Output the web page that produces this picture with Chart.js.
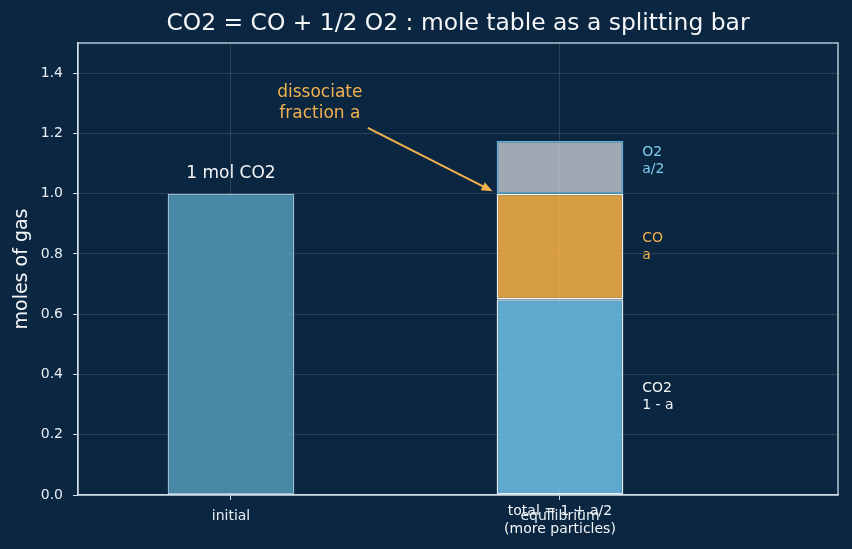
<!DOCTYPE html>
<html><head><meta charset="utf-8">
<script src="https://cdn.jsdelivr.net/npm/chart.js@4/dist/chart.umd.min.js"></script>
<style>html,body{margin:0;padding:0;background:#0b2640;overflow:hidden;}</style>
</head><body>
<canvas id="c" width="852" height="549" style="width:852px;height:549px;display:block"></canvas>
<script>
// ---- data ----
const categories = ['initial', 'equilibrium'];
const categoryX = [0, 1];
const yTicks = [0, 0.2, 0.4, 0.6, 0.8, 1.0, 1.2, 1.4];
const initialMoles = [1.0];
const dissociated = 0.35;                  // a
const eqCO2 = [0.65];                      // 1 - a
const eqCO = [0.35];                       // a
const eqO2 = [0.175];                      // a/2
const segmentNames = ['CO2', 'CO', 'O2'];
const segmentExpr = ['1 - a', 'a', 'a/2'];
const titleText = 'CO2 = CO + 1/2 O2 : mole table as a splitting bar';
const yLabelText = 'moles of gas';
const initialLabel = '1 mol CO2';
const arrowText = ['dissociate', 'fraction a'];
const totalText = ['total = 1 + a/2', '(more particles)'];

const FONT = '"DejaVu Sans", "Liberation Sans", sans-serif';
const BG = '#0b2640';

const bgPlugin = {
  id: 'bg',
  beforeDraw(chart) {
    const c = chart.ctx;
    c.save(); c.fillStyle = BG; c.fillRect(0, 0, chart.width, chart.height); c.restore();
  }
};

function drawLines(c, lines, x, yMid, lh) {
  const n = lines.length;
  lines.forEach((t, i) => c.fillText(t, x, yMid + (i - (n - 1) / 2) * lh));
}

const textPlugin = {
  id: 'texts',
  afterDraw(chart) {
    const c = chart.ctx, xs = chart.scales.x, ys = chart.scales.y, a = chart.chartArea;
    c.save();
    // frame
    c.strokeStyle = '#cfdde8'; c.lineWidth = 1.3;
    c.strokeRect(a.left, a.top, a.right - a.left, a.bottom - a.top);
    // title
    c.fillStyle = '#f4f6f8'; c.font = '23.4px ' + FONT; c.textAlign = 'center'; c.textBaseline = 'middle';
    c.fillText(titleText, (a.left + a.right) / 2, 24);
    // y label
    c.save(); c.translate(22, (a.top + a.bottom) / 2); c.rotate(-Math.PI / 2);
    c.font = '19px ' + FONT; c.fillText(yLabelText, 0, 0); c.restore();
    // initial label
    c.font = '17px ' + FONT; c.fillStyle = '#f4f6f8';
    c.fillText(initialLabel, xs.getPixelForValue(categoryX[0]), ys.getPixelForValue(initialMoles[0] + 0.07) + 1);
    // annotation
    c.fillStyle = '#f2b24e';
    drawLines(c, arrowText, xs.getPixelForValue(0.27), ys.getPixelForValue(1.30), 21);
    const x0 = xs.getPixelForValue(0.416), y0 = ys.getPixelForValue(1.218);
    const x1 = xs.getPixelForValue(0.795), y1 = ys.getPixelForValue(1.008);
    c.strokeStyle = '#f2b24e'; c.lineWidth = 2;
    c.beginPath(); c.moveTo(x0, y0); c.lineTo(x1 - 4 * Math.cos(Math.atan2(y1 - y0, x1 - x0)), y1 - 4 * Math.sin(Math.atan2(y1 - y0, x1 - x0))); c.stroke();
    const ang = Math.atan2(y1 - y0, x1 - x0), L = 11, W = 4.5;
    c.beginPath();
    c.moveTo(x1, y1);
    c.lineTo(x1 - L * Math.cos(ang) + W * Math.sin(ang), y1 - L * Math.sin(ang) - W * Math.cos(ang));
    c.lineTo(x1 - L * Math.cos(ang) - W * Math.sin(ang), y1 - L * Math.sin(ang) + W * Math.cos(ang));
    c.closePath(); c.fillStyle = '#f2b24e'; c.fill();
    // segment labels
    const segVals = [eqCO2[0], eqCO[0], eqO2[0]];
    const segColors = ['#f4f6f8', '#f0b050', '#7fcdf0'];
    const nudge = [0, 0, 0.02];
    c.textAlign = 'left'; c.font = '14px ' + FONT;
    let base = 0;
    segVals.forEach((v, i) => {
      c.fillStyle = segColors[i];
      drawLines(c, [segmentNames[i], segmentExpr[i]], xs.getPixelForValue(categoryX[1] + 0.25),
        ys.getPixelForValue(base + v / 2 + nudge[i]), 17);
      base += v;
    });
    // total text under equilibrium
    c.textAlign = 'center'; c.fillStyle = '#f4f6f8'; c.font = '14px ' + FONT;
    drawLines(c, totalText, xs.getPixelForValue(categoryX[1]), ys.getPixelForValue(-0.08) + 1, 18);
    c.restore();
  }
};

const chart = new Chart(document.getElementById('c'), {
  type: 'bar',
  data: {
    datasets: [
      { label: 'initial', data: [{ x: categoryX[0], y: initialMoles[0] }],
        backgroundColor: 'rgba(85,153,186,0.85)', borderColor: 'rgba(170,208,228,0.9)' },
      { label: 'CO2', data: [{ x: categoryX[1], y: eqCO2[0] }],
        backgroundColor: 'rgba(110,191,232,0.85)', borderColor: '#e4eef4' },
      { label: 'CO', data: [{ x: categoryX[1], y: eqCO[0] }],
        backgroundColor: 'rgba(252,179,66,0.85)', borderColor: '#f0f4f6' },
      { label: 'O2', data: [{ x: categoryX[1], y: eqO2[0] }],
        backgroundColor: 'rgba(186,193,200,0.85)', borderColor: '#5fb3dc' }
    ]
  },
  options: {
    responsive: false, animation: false, devicePixelRatio: 1,
    datasets: { bar: { borderWidth: 1.5, borderSkipped: false, categoryPercentage: 1, barPercentage: 0.385 } },
    layout: { padding: { left: 0, right: 14, top: 43, bottom: 0 } },
    plugins: { legend: { display: false }, tooltip: { enabled: false }, title: { display: false } },
    scales: {
      x: {
        type: 'linear', min: -0.465, max: 1.845, stacked: true, offset: false,
        afterBuildTicks: (s) => { s.ticks = categoryX.map(v => ({ value: v })); },
        afterFit: (s) => { s.height = 54; },
        ticks: { color: '#e8eef4', font: { family: FONT, size: 14 }, padding: 8, maxRotation: 0,
          callback: (v) => { const i = categoryX.indexOf(v); return i >= 0 ? categories[i] : ''; } },
        grid: { offset: false, color: 'rgba(255,255,255,0.13)', tickColor: '#cfdde8', tickLength: 5, drawTicks: true },
        border: { display: true, color: '#cfdde8', width: 1.3 }
      },
      y: {
        min: 0, max: 1.5, stacked: true,
        afterBuildTicks: (s) => { s.ticks = yTicks.map(v => ({ value: v })); },
        afterFit: (s) => { s.width = 78; },
        ticks: { color: '#e8eef4', font: { family: FONT, size: 14 }, padding: 10,
          callback: (v) => Number(v).toFixed(1) },
        grid: { offset: false, color: 'rgba(255,255,255,0.13)', tickColor: '#cfdde8', tickLength: 5, drawTicks: true },
        border: { display: true, color: '#cfdde8', width: 1.3 }
      }
    }
  },
  plugins: [bgPlugin, textPlugin]
});
</script>
</body></html>
